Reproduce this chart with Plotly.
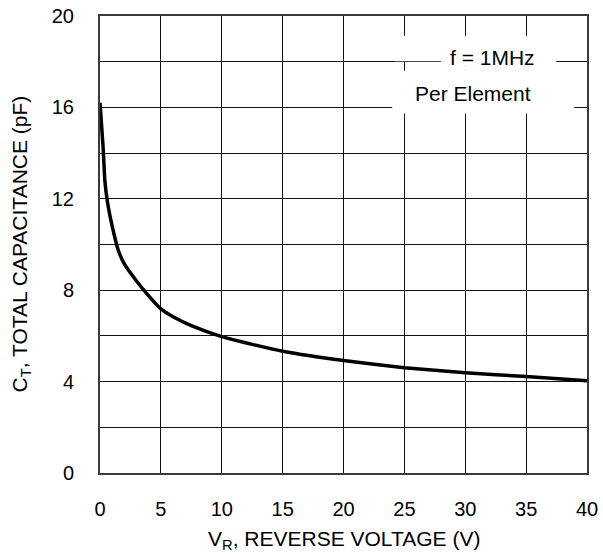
import plotly.graph_objects as go

# Data
reverse_voltage = [0, 0.25, 0.4, 0.6, 1.0, 1.5, 2.0, 3.0, 4.0, 5.0, 6.0, 7.5, 10, 12.5, 15, 20, 25, 30, 35, 40]
capacitance = [16.2, 14.3, 12.8, 11.9, 10.8, 9.75, 9.15, 8.4, 7.75, 7.18, 6.84, 6.45, 5.97, 5.63, 5.33, 4.92, 4.61, 4.39, 4.22, 4.04]

x_ticks = [0, 5, 10, 15, 20, 25, 30, 35, 40]
y_ticks = [0, 4, 8, 12, 16, 20]

FONT = "Liberation Sans, Arial, Helvetica, sans-serif"

fig = go.Figure()
fig.add_trace(go.Scatter(
    x=reverse_voltage, y=capacitance, mode="lines",
    line=dict(color="black", width=3.5, shape="spline", smoothing=0.5),
    hoverinfo="skip", showlegend=False,
))

# White boxes behind the annotation text (cover grid lines)
boxes = [
    (24.2, 37.5, 18.02, 19.14),
    (28.0, 37.47, 17.6, 18.1),
    (24.0, 38.95, 15.73, 17.6),
]
for x0, x1, y0, y1 in boxes:
    fig.add_shape(type="rect", xref="x", yref="y", x0=x0, x1=x1, y0=y0, y1=y1,
                  fillcolor="white", line=dict(width=0), layer="between")

fig.add_annotation(x=32.2, y=18.2, text="f = 1MHz", showarrow=False,
                   font=dict(family=FONT, size=21, color="black"))
fig.add_annotation(x=30.6, y=16.6, text="Per Element", showarrow=False,
                   font=dict(family=FONT, size=21, color="black"))

# Axis titles as annotations
fig.add_annotation(xref="paper", yref="paper", x=0.5, y=0, yshift=-67,
                   text="V<sub>R</sub>, REVERSE VOLTAGE (V)", showarrow=False,
                   font=dict(family=FONT, size=21, color="black"), yanchor="middle")
fig.add_annotation(xref="paper", yref="paper", x=0, xshift=-80, y=0.5,
                   text="C<sub>T</sub>, TOTAL CAPACITANCE (pF)", showarrow=False, textangle=-90,
                   font=dict(family=FONT, size=21, color="black"), xanchor="center")

fig.update_xaxes(
    range=[0, 40], tickvals=x_ticks, ticktext=[str(v) for v in x_ticks],
    showgrid=True, gridcolor="#111", gridwidth=1, zeroline=False,
    showline=True, linecolor="#3a3a3a", linewidth=2, mirror=True,
    ticks="", ticklabelstandoff=17, automargin=False,
    tickfont=dict(family=FONT, size=20, color="black"),
)
fig.update_yaxes(
    range=[0, 20], tickvals=list(range(0, 21, 2)),
    ticktext=[str(v) if v in y_ticks else "" for v in range(0, 21, 2)],
    showgrid=True, gridcolor="#111", gridwidth=1, zeroline=False,
    showline=True, linecolor="#3a3a3a", linewidth=2, mirror=True,
    ticks="", ticklabelstandoff=20, automargin=False,
    tickfont=dict(family=FONT, size=20, color="black"),
)

fig.update_layout(
    width=603, height=555,
    margin=dict(l=100, r=16, t=16, b=82, autoexpand=False),
    plot_bgcolor="white", paper_bgcolor="white",
    font=dict(family=FONT, color="black"),
)

fig.write_html("out.html", config={"displayModeBar": False},
               post_script="document.body.style.margin='0';document.body.style.padding='0';")
